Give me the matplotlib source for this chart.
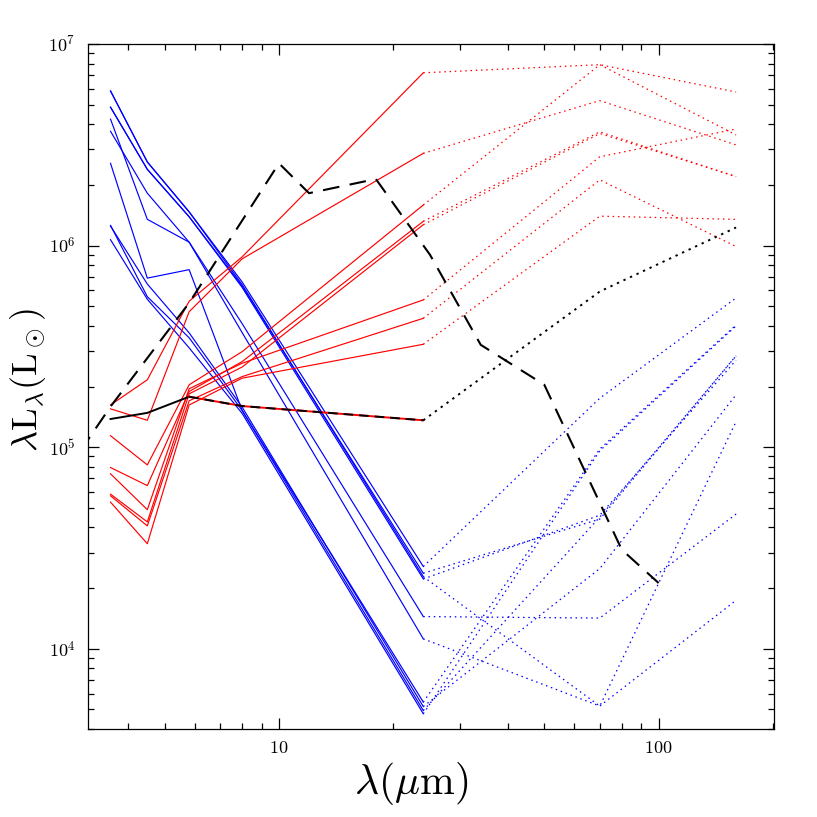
import matplotlib
matplotlib.use('Agg')
import matplotlib.pyplot as plt
from matplotlib.ticker import LogLocator, NullFormatter

plt.rcParams['mathtext.fontset'] = 'cm'

# IRAC + MIPS24 bands (solid) and MIPS 24/70/160 (dotted)
wave_near = [3.6, 4.5, 5.8, 8.0, 24.0]
wave_far = [24.0, 70.0, 160.0]

# blue objects, lambda*L_lambda in L_sun
blue_near = [
    [5.85e6, 2.60e6, 1.47e6, 6.6e5, 2.56e4],
    [4.86e6, 2.39e6, 1.39e6, 6.3e5, 2.37e4],
    [5.85e6, 2.60e6, 1.47e6, 6.4e5, 2.28e4],
    [4.86e6, 2.39e6, 1.39e6, 6.2e5, 2.22e4],
    [4.24e6, 1.35e6, 1.04e6, 4.1e5, 1.445e4],
    [3.69e6, 1.82e6, 1.04e6, 3.7e5, 1.12e4],
    [2.56e6, 6.9e5, 7.6e5, 1.52e5, 5.44e3],
    [1.25e6, 6.45e5, 3.69e5, 1.58e5, 5.17e3],
    [1.26e6, 5.58e5, 3.49e5, 1.52e5, 4.94e3],
    [1.07e6, 5.42e5, 3.11e5, 1.47e5, 4.76e3],
]
blue_far = [
    [2.56e4, 1.75e5, 5.5e5],
    [2.37e4, 4.4e4, 2.84e5],
    [2.28e4, 5.2e3, 1.34e5],
    [2.22e4, 4.6e4, 2.7e5],
    [1.445e4, 1.42e4, 4.66e4],
    [1.12e4, 5.2e3, 1.74e4],
    [5.44e3, 9.8e4, 4.04e5],
    [5.17e3, 2.5e4, 1.82e5],
    [4.94e3, 4.5e4, 2.84e5],
    [4.76e3, 9.6e4, 4.0e5],
]

# red objects
red_near = [
    [1.62e5, 2.16e5, 5.3e5, 8.8e5, 7.2e6],
    [1.55e5, 1.36e5, 4.7e5, 8.6e5, 2.87e6],
    [1.14e5, 8.17e4, 2.04e5, 2.98e5, 1.59e6],
    [7.93e4, 6.45e4, 1.89e5, 2.66e5, 1.32e6],
    [5.85e4, 4.26e4, 1.84e5, 2.5e5, 1.27e6],
    [7.38e4, 4.9e4, 1.95e5, 2.61e5, 5.38e5],
    [5.74e4, 4.07e4, 1.7e5, 2.24e5, 4.36e5],
    [5.34e4, 3.32e4, 1.62e5, 2.2e5, 3.24e5],
]
red_far = [
    [7.2e6, 7.9e6, 5.78e6],
    [2.87e6, 5.24e6, 3.16e6],
    [1.59e6, 7.9e6, 3.54e6],
    [1.32e6, 3.67e6, 2.2e6],
    [1.27e6, 3.6e6, 2.2e6],
    [5.38e5, 2.76e6, 3.79e6],
    [4.36e5, 2.12e6, 9.9e5],
    [3.24e5, 1.4e6, 1.35e6],
]

# average SED
mean_near = [1.38e5, 1.48e5, 1.78e5, 1.6e5, 1.36e5]
mean_far = [1.36e5, 5.92e5, 1.23e6]

# comparison template (long dashes)
tmpl_wave = [3.0, 3.6, 5.8, 10.0, 12.0, 18.0, 25.0, 34.0, 50.0, 80.0, 100.0]
tmpl_lum = [9.6e4, 1.59e5, 5.2e5, 2.56e6, 1.82e6, 2.14e6, 9.0e5, 3.22e5, 2.04e5, 3.1e4, 2.12e4]

fig = plt.figure(figsize=(8.17, 8.17), dpi=100)
ax = fig.add_axes([0.1077, 0.1077, 0.8393, 0.8384])

dots = (1.2, 3)
for lum in blue_near:
    ax.plot(wave_near, lum, color='blue', lw=0.85)
for lum in blue_far:
    ax.plot(wave_far, lum, color='blue', lw=0.9, dashes=dots)
for lum in red_near:
    ax.plot(wave_near, lum, color='red', lw=0.85)
for lum in red_far:
    ax.plot(wave_far, lum, color='red', lw=0.9, dashes=dots)

ax.plot(wave_near[:3], mean_near[:3], color='black', lw=1.4)
ax.plot(wave_near[2:], mean_near[2:], color='red', lw=1.4)
ax.plot(wave_near[2:], mean_near[2:], color='black', lw=1.4, dashes=(5, 3))
ax.plot(wave_far, mean_far, color='black', lw=1.4, dashes=(1.2, 2.5))

ax.plot(tmpl_wave, tmpl_lum, color='black', lw=1.5, dashes=(8, 5))

ax.set_xscale('log')
ax.set_yscale('log')
ax.set_xlim(3.14, 201)
ax.set_ylim(4000, 1e7)

ax.set_xticks([10, 100])
ax.set_xticklabels([r'$10$', r'$100$'])
ax.set_yticks([1e4, 1e5, 1e6, 1e7])
ax.set_yticklabels([r'$10^4$', r'$10^5$', r'$10^6$', r'$10^7$'])
ax.xaxis.set_minor_locator(LogLocator(base=10, subs=range(2, 10), numticks=20))
ax.yaxis.set_minor_locator(LogLocator(base=10, subs=range(2, 10), numticks=20))
ax.xaxis.set_minor_formatter(NullFormatter())
ax.yaxis.set_minor_formatter(NullFormatter())

ax.tick_params(which='both', direction='in', top=True, right=True, width=0.9)
ax.tick_params(which='major', length=8, labelsize=13)
ax.tick_params(axis='x', which='major', pad=7)
ax.tick_params(axis='y', which='major', pad=9)
ax.tick_params(which='minor', length=4.5)
for sp in ax.spines.values():
    sp.set_linewidth(0.9)

ax.set_xlabel(r'$\lambda(\mu\mathrm{m})$', fontsize=30)
ax.set_ylabel(r'$\lambda\mathrm{L}_\lambda(\mathrm{L}_\odot)$', fontsize=26)
ax.xaxis.set_label_coords(0.471, -0.045)
ax.yaxis.set_label_coords(-0.058, 0.51)

fig.savefig('out.png', dpi=100)
